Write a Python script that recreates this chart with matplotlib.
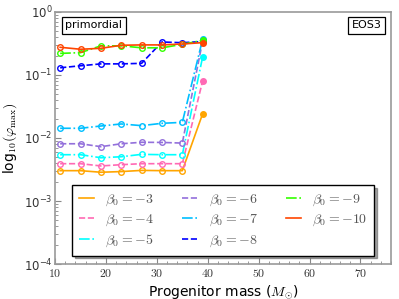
import numpy as np
import matplotlib
matplotlib.use("Agg")
import matplotlib.pyplot as plt
from matplotlib.ticker import AutoMinorLocator, FuncFormatter

plt.rcParams['mathtext.fontset'] = 'cm'

# progenitor masses (M_sun)
masses = [11, 15, 19, 23, 27, 31, 35, 39]

# phi_max data, one list per beta_0
betas = [-3, -4, -5, -6, -7, -8, -9, -10]
phi_b3 = [0.00303, 0.00303, 0.00286, 0.00293, 0.00306, 0.00303, 0.00303, 0.0243]
phi_b4 = [0.00391, 0.00391, 0.00360, 0.00377, 0.00391, 0.00391, 0.00391, 0.081]
phi_b5 = [0.00543, 0.00543, 0.00486, 0.00504, 0.00550, 0.00543, 0.00543, 0.195]
phi_b6 = [0.0081, 0.0081, 0.00728, 0.0081, 0.00855, 0.0085, 0.0083, 0.35]
phi_b7 = [0.01426, 0.01426, 0.0155, 0.0167, 0.0157, 0.0171, 0.0177, 0.373]
phi_b8 = [0.130, 0.140, 0.150, 0.150, 0.153, 0.334, 0.325, 0.340]
phi_b9 = [0.220, 0.226, 0.290, 0.290, 0.270, 0.270, 0.306, 0.355]
phi_b10 = [0.275, 0.256, 0.265, 0.296, 0.300, 0.300, 0.310, 0.326]
series = [phi_b3, phi_b4, phi_b5, phi_b6, phi_b7, phi_b8, phi_b9, phi_b10]

colors = ['#FFA500', '#FF69B4', '#00FFFF', '#9370DB',
          '#00BFFF', '#0000FF', '#33FF00', '#FF4500']
styles = ['-', '--', '-.', '--', '-.', '--', '-.', '-']

fig = plt.figure(figsize=(3.99, 2.99), dpi=100)
ax = fig.add_axes([0.138, 0.117, 0.842, 0.843])

for b, y, c, ls in zip(betas, series, colors, styles):
    ax.plot(masses, y, ls, color=c, lw=1.2, label=r'$\beta_0=%d$' % b)
    # open markers, last point filled
    ax.plot(masses[:-1], y[:-1], 'o', ms=4.0, mfc='none', mec=c, mew=1.0)
    ax.plot(masses[-1:], y[-1:], 'o', ms=4.0, color=c)

ax.set_yscale('log')
ax.set_xlim(10, 76)
ax.set_ylim(1e-4, 1)
ax.xaxis.set_minor_locator(AutoMinorLocator())
ax.xaxis.set_major_formatter(FuncFormatter(lambda v, p: r'$%d$' % v))
ax.tick_params(which='both', direction='in', colors='#888888',
               labelcolor='#333333', labelsize=8.5)
ax.tick_params(which='major', length=4, pad=2)
ax.tick_params(which='minor', length=2)
for s in ax.spines.values():
    s.set_color('#999999')
    s.set_linewidth(1.2)

ax.set_xlabel(r'Progenitor mass ($M_{\odot}$)', fontsize=10, labelpad=2)
ax.set_ylabel(r'log$_{10}(\varphi_{\max})$', fontsize=10, labelpad=3)

box = dict(boxstyle='square,pad=0.3', fc='white', ec='black', lw=0.9)
ax.text(0.031, 0.967, 'primordial', transform=ax.transAxes, fontsize=8,
        va='top', ha='left', bbox=box)
ax.text(0.972, 0.967, 'EOS3', transform=ax.transAxes, fontsize=8,
        va='top', ha='right', bbox=box)

leg = ax.legend(ncol=3, loc='lower left', bbox_to_anchor=(0.05, 0.033, 0.9, 0.25),
                mode='expand', borderaxespad=0, fancybox=False, shadow=True,
                framealpha=1, edgecolor='black', fontsize=10, handlelength=1.1,
                handletextpad=0.8, labelspacing=0.3, borderpad=0.5)
for t in leg.get_texts():
    t.set_color('#555555')

fig.savefig('out.png', dpi=100)
